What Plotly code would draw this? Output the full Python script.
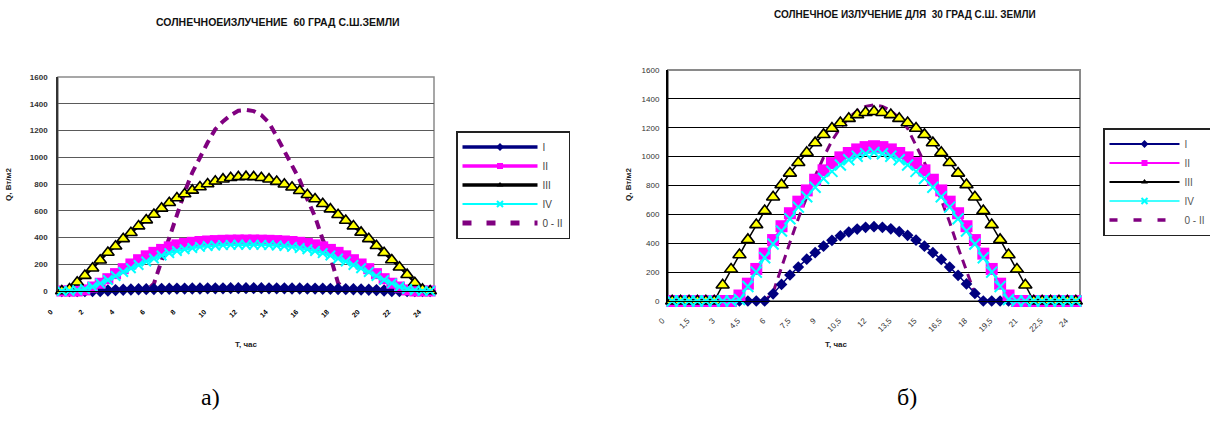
import plotly.graph_objects as go

W, H = 1210, 426

hours = [0, 0.5, 1, 1.5, 2, 2.5, 3, 3.5, 4, 4.5, 5, 5.5, 6, 6.5, 7, 7.5, 8, 8.5,
         9, 9.5, 10, 10.5, 11, 11.5, 12, 12.5, 13, 13.5, 14, 14.5, 15, 15.5, 16,
         16.5, 17, 17.5, 18, 18.5, 19, 19.5, 20, 20.5, 21, 21.5, 22, 22.5, 23,
         23.5, 24]

series_names = ["I", "II", "III", "IV", "0 - II"]

# ---- 60 deg N ----
I_60 = [0, 0, 0, 0, 0, 0, 4, 7, 9, 11, 13, 14, 15, 16, 17, 18, 18, 19, 19, 20,
        20, 20, 21, 21, 21, 21, 21, 20, 20, 20, 19, 19, 18, 18, 17, 16, 15, 14,
        13, 11, 9, 7, 4, 0, 0, 0, 0, 0, 0]
II_60 = [0, 0, 0, 8, 30, 58, 92, 130, 167, 202, 234, 263, 289, 311, 330, 345,
         356, 364, 370, 374, 377, 379, 380, 381, 381, 381, 380, 379, 377, 374,
         370, 364, 356, 345, 330, 311, 289, 263, 234, 202, 167, 130, 92, 58, 30,
         8, 0, 0, 0]
III_60 = [0, 15, 65, 115, 170, 230, 288, 335, 390, 435, 485, 530, 572, 618, 660,
          695, 725, 752, 778, 800, 820, 836, 847, 853, 855, 853, 847, 836, 818,
          798, 776, 750, 720, 688, 652, 612, 570, 527, 485, 438, 390, 338, 286,
          232, 178, 122, 62, 12, 0]
IV_60 = [0, 0, 5, 15, 32, 57, 82, 112, 142, 170, 195, 220, 243, 265, 283, 299,
         312, 322, 330, 336, 340, 343, 345, 346, 346, 346, 345, 343, 340, 336,
         330, 322, 312, 299, 283, 265, 243, 220, 195, 170, 142, 112, 82, 57, 32,
         15, 5, 0, 0]
OII_60 = [0, 0, 0, 0, 0, 0, 0, 0, 0, 0, 0, 0, 55, 230, 405, 580, 740, 885, 1005,
          1110, 1210, 1268, 1315, 1348, 1354, 1345, 1315, 1258, 1155, 1050, 950,
          830, 685, 555, 385, 255, 60, 0, 0, 0, 0, 0, 0, 0, 0, 0, 0, 0, 0]

# ---- 30 deg N ----
I_30 = [0, 0, 0, 0, 0, 0, 0, 0, 0, 0, 0, 0, 50, 115, 180, 235, 290, 335, 380,
        420, 452, 478, 498, 510, 515, 510, 500, 480, 455, 422, 380, 335, 288,
        235, 178, 118, 52, 0, 0, 0, 0, 0, 0, 0, 0, 0, 0, 0, 0]
II_30 = [0, 0, 0, 0, 0, 0, 0, 0, 38, 120, 222, 328, 422, 518, 608, 688, 766, 840,
         905, 955, 995, 1025, 1050, 1066, 1072, 1066, 1050, 1025, 995, 955, 905,
         840, 766, 688, 608, 518, 422, 328, 222, 120, 38, 0, 0, 0, 0, 0, 0, 0, 0]
III_30 = [0, 0, 0, 0, 0, 0, 110, 220, 320, 425, 528, 625, 720, 805, 885, 958,
          1028, 1095, 1152, 1196, 1234, 1264, 1290, 1305, 1312, 1305, 1290, 1264,
          1234, 1196, 1152, 1095, 1028, 958, 885, 805, 720, 625, 528, 425, 320,
          220, 110, 0, 0, 0, 0, 0, 0]
IV_30 = [0, 0, 0, 0, 0, 0, 0, 0, 10, 100, 200, 300, 395, 485, 570, 650, 722, 788,
         848, 898, 942, 978, 1003, 1020, 1028, 1020, 1003, 978, 942, 898, 848,
         788, 722, 650, 570, 485, 395, 300, 200, 100, 10, 0, 0, 0, 0, 0, 0, 0, 0]
OII_30 = [0, 0, 0, 0, 0, 0, 0, 0, 0, 0, 0, 0, 60, 237, 405, 572, 725, 865, 995,
          1110, 1200, 1268, 1318, 1348, 1358, 1348, 1318, 1268, 1195, 1075, 960,
          840, 700, 545, 370, 205, 50, 0, 0, 0, 0, 0, 0, 0, 0, 0, 0, 0, 0]

ticks_60 = [0, 2, 4, 6, 8, 10, 12, 14, 16, 18, 20, 22, 24]
labels_60 = ["0", "2", "4", "6", "8", "10", "12", "14", "16", "18", "20", "22", "24"]
ticks_30 = [0, 1.5, 3, 4.5, 6, 7.5, 9, 10.5, 12, 13.5, 15, 16.5, 18, 19.5, 21, 22.5, 24]
labels_30 = ["0", "1,5", "3", "4,5", "6", "7,5", "9", "10,5", "12", "13,5", "15",
             "16,5", "18", "19,5", "21", "22,5", "24"]

title_60 = "СОЛНЕЧНОЕИЗЛУЧЕНИЕ &nbsp;60 ГРАД С.Ш.ЗЕМЛИ"
title_30 = "СОЛНЕЧНОЕ ИЗЛУЧЕНИЕ ДЛЯ &nbsp;30 ГРАД С.Ш. ЗЕМЛИ"
y_title = "Q, Вт/м2"
x_title = "T, час"

NAVY, MAG, YEL, CYAN, PURP = "#000080", "#FF00FF", "#FFFF00", "#00FFFF", "#800080"
FONT = "Liberation Sans, Arial, sans-serif"

fig = go.Figure()


def add_panel(xa, ya, leg, data, lw, sizes, dash_plot, dash_leg, legw):
    I, II, III, IV, OII = data
    sd, ss, st, sx = sizes
    fig.add_trace(go.Scatter(x=hours, y=OII, mode="lines", xaxis=xa, yaxis=ya,
                             line=dict(color=PURP, width=lw + 1.5, dash=dash_plot),
                             showlegend=False, cliponaxis=False))
    fig.add_trace(go.Scatter(x=hours, y=I, mode="lines+markers", xaxis=xa, yaxis=ya,
                             line=dict(color=NAVY, width=lw),
                             marker=dict(symbol="diamond", size=sd, color=NAVY),
                             showlegend=False, cliponaxis=False))
    fig.add_trace(go.Scatter(x=hours, y=II, mode="lines+markers", xaxis=xa, yaxis=ya,
                             line=dict(color=MAG, width=lw),
                             marker=dict(symbol="square", size=ss, color=MAG),
                             showlegend=False, cliponaxis=False))
    fig.add_trace(go.Scatter(x=hours, y=III, mode="lines+markers", xaxis=xa, yaxis=ya,
                             line=dict(color="black", width=lw),
                             marker=dict(symbol="triangle-up", size=st, color=YEL,
                                         line=dict(color="black", width=1.6)),
                             showlegend=False, cliponaxis=False))
    fig.add_trace(go.Scatter(x=hours, y=IV, mode="lines+markers", xaxis=xa, yaxis=ya,
                             line=dict(color=CYAN, width=lw),
                             marker=dict(symbol="x-thin", size=sx, color=CYAN,
                                         line=dict(color=CYAN, width=2)),
                             showlegend=False, cliponaxis=False))
    specs = [
        (series_names[0], NAVY, legw, dict(symbol="diamond", size=6, color=NAVY), "solid"),
        (series_names[1], MAG, legw, dict(symbol="square", size=6, color=MAG), "solid"),
        (series_names[2], "black", legw, dict(symbol="triangle-up", size=6, color="black"), "solid"),
        (series_names[3], CYAN, max(legw - 1.5, 1.5), dict(symbol="x-thin", size=6, color=CYAN,
                                                         line=dict(color=CYAN, width=2)), "solid"),
        (series_names[4], PURP, legw + 1.5, None, dash_leg),
    ]
    for name, col, w, mk, dsh in specs:
        fig.add_trace(go.Scatter(x=[None], y=[None], xaxis=xa, yaxis=ya, name=name,
                                 mode="lines+markers" if mk else "lines",
                                 line=dict(color=col, width=w, dash=dsh),
                                 marker=mk if mk else None, legend=leg))


add_panel("x", "y", "legend", (I_60, II_60, III_60, IV_60, OII_60), 2.5,
          (9.5, 11, 11, 9.5), "9px,6px", "9px,15px", 3.5)
add_panel("x2", "y2", "legend2", (I_30, II_30, III_30, IV_30, OII_30), 1.5,
          (9, 12, 11.5, 11), "9px,6px", "8px,16px", 2)


def px(x):
    return x / W


def py(y):
    return 1 - y / H


common_x = dict(range=[-0.25, 24.25], showgrid=False, zeroline=False,
                showline=True, linecolor="black", linewidth=1, ticks="",
                tickangle=-45, automargin=False)
common_y = dict(range=[0, 1600], dtick=200, zeroline=False, showline=True,
                ticks="", automargin=False)


def note(text, x, y, size, angle=0, family=FONT, color="#222"):
    return dict(text=text, x=px(x), y=py(y), xref="paper", yref="paper",
                xanchor="center", yanchor="middle", showarrow=False,
                textangle=angle, font=dict(size=size, color=color, family=family))


fig.update_layout(
    width=W, height=H, margin=dict(l=0, r=0, t=0, b=0, autoexpand=False),
    paper_bgcolor="white", plot_bgcolor="white",
    font=dict(family=FONT, color="#222"),
    xaxis=dict(common_x, domain=[px(58), px(434)], anchor="y",
               tickvals=ticks_60, ticktext=labels_60,
               tickfont=dict(size=7, color="black", weight="bold"),
               ticklabelstandoff=13, ticklabelshift=-11),
    yaxis=dict(common_y, domain=[py(291), py(77)], anchor="x",
               gridcolor="#5a5a5a", gridwidth=1, linecolor="#333", linewidth=1.5,
               tickfont=dict(size=8, color="#333", weight="bold"),
               ticklabelstandoff=7),
    xaxis2=dict(common_x, domain=[px(668), px(1080)], anchor="y2",
                tickvals=ticks_30, ticktext=labels_30,
                tickfont=dict(size=8, color="#333"), ticklabelstandoff=11,
                ticklabelshift=-10),
    yaxis2=dict(common_y, domain=[py(301), py(70)], anchor="x2",
                gridcolor="black", gridwidth=1, linecolor="black", linewidth=2,
                tickfont=dict(size=8, color="#333"), ticklabelstandoff=5),
    legend=dict(x=px(456), y=py(131), xanchor="left", yanchor="top",
                bordercolor="#222", borderwidth=1.5, bgcolor="white",
                font=dict(size=10, color="#444"), itemwidth=75,
                itemclick=False),
    legend2=dict(x=px(1103), y=py(128), xanchor="left", yanchor="top",
                 bordercolor="#222", borderwidth=1.5, bgcolor="white",
                 font=dict(size=10, color="#555"), itemwidth=70,
                 itemclick=False),
    shapes=[
        dict(type="rect", xref="x domain", yref="y domain", x0=0, x1=1, y0=0, y1=1,
             line=dict(color="#8a8a8a", width=1.5), layer="below"),
        dict(type="rect", xref="x2 domain", yref="y2 domain", x0=0, x1=1, y0=0, y1=1,
             line=dict(color="#8a8a8a", width=2), layer="below"),
    ],
    annotations=[
        note("<b>" + title_60 + "</b>", 278, 22, 10.5, color="#111"),
        note("<b>" + title_30 + "</b>", 905, 15, 10, color="#111"),
        note("<b>" + y_title + "</b>", 9, 185, 8, angle=-90),
        note("<b>" + y_title + "</b>", 629, 185, 8, angle=-90),
        note("<b>" + x_title + "</b>", 246, 344, 8),
        note("<b>" + x_title + "</b>", 836, 344, 8),
        note("а)", 210, 397, 24, family="Liberation Serif, Times New Roman, serif",
             color="black"),
        note("б)", 907, 397, 24, family="Liberation Serif, Times New Roman, serif",
             color="black"),
    ],
)

fig.write_html("out.html", config={"displayModeBar": False},
               post_script="document.body.style.margin='0px';")
